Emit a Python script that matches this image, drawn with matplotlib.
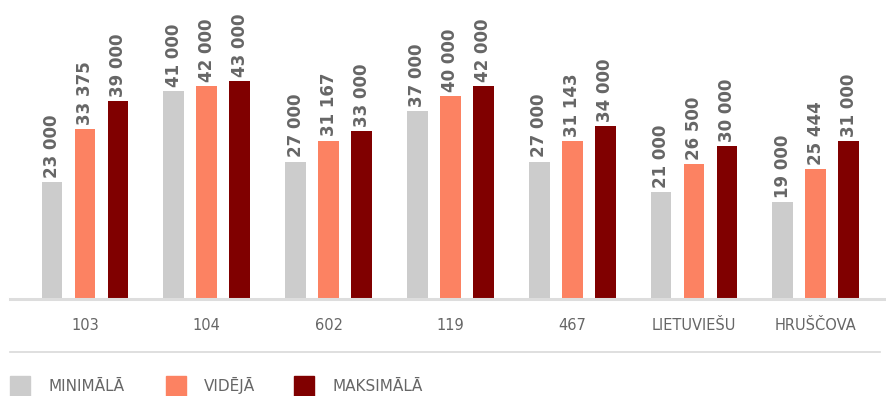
import matplotlib
matplotlib.use('Agg')
import matplotlib.pyplot as plt
import numpy as np

categories = ["103", "104", "602", "119", "467", "LIETUVIEŠU", "HRUŠČOVA"]
minimala = [23000, 41000, 27000, 37000, 27000, 21000, 19000]
videja = [33375, 42000, 31167, 40000, 31143, 26500, 25444]
maksimala = [39000, 43000, 33000, 42000, 34000, 30000, 31000]
series_names = ["MINIMĀLĀ", "VIDĒJĀ", "MAKSIMĀLĀ"]
colors = ["#cccccc", "#fc8262", "#800000"]

W, H = 886, 396
fig = plt.figure(figsize=(W / 100, H / 100), dpi=100)
ax = fig.add_axes([0, (H - 298) / H, 1, 298 / H])

x = np.arange(len(categories))
width = 0.172
offset = 0.271
grey = "#666666"

def fmt(v):
    return f"{v:,}".replace(",", " ")

for i, (vals, col) in enumerate(zip([minimala, videja, maksimala], colors)):
    bars = ax.bar(x + (i - 1) * offset, vals, width, color=col)
    for b, v in zip(bars, vals):
        ax.annotate(fmt(v), (b.get_x() + b.get_width() / 2, v),
                    xytext=(0, 3), textcoords="offset points",
                    rotation=90, ha="center", va="bottom",
                    fontsize=12, fontweight="bold", color=grey)

# 85 px = first group centre, 121.8 px between groups
ax.set_xlim((0 - 85) / 121.8, (W - 85) / 121.8)
ax.set_ylim(0, 59000)
ax.axis("off")

# baseline
fig.add_artist(plt.Line2D([10 / W, 884 / W], [(H - 298.5) / H] * 2,
                          color="#dddddd", lw=2.2))

# category labels
for xi, c in zip(x, categories):
    ax.annotate(c, (xi, 0), xytext=(0, -28 * 0.72), textcoords="offset points",
                ha="center", va="center", fontsize=10.5, color=grey)

# separator line
fig.add_artist(plt.Line2D([10 / W, 880 / W], [(H - 352) / H] * 2,
                          color="#d9d9d9", lw=1.2))

# legend
sq_x = [10, 166, 294]
tx_x = [48, 204, 333]
ly = (H - 391) / H
for sx, tx, name, col in zip(sq_x, tx_x, series_names, colors):
    fig.add_artist(plt.Rectangle((sx / W, (H - 396) / H), 20 / W, 20 / H, color=col))
    fig.text(tx / W, ly, name, ha="left", va="baseline", fontsize=11, color=grey)

fig.savefig("out.png", dpi=100)
